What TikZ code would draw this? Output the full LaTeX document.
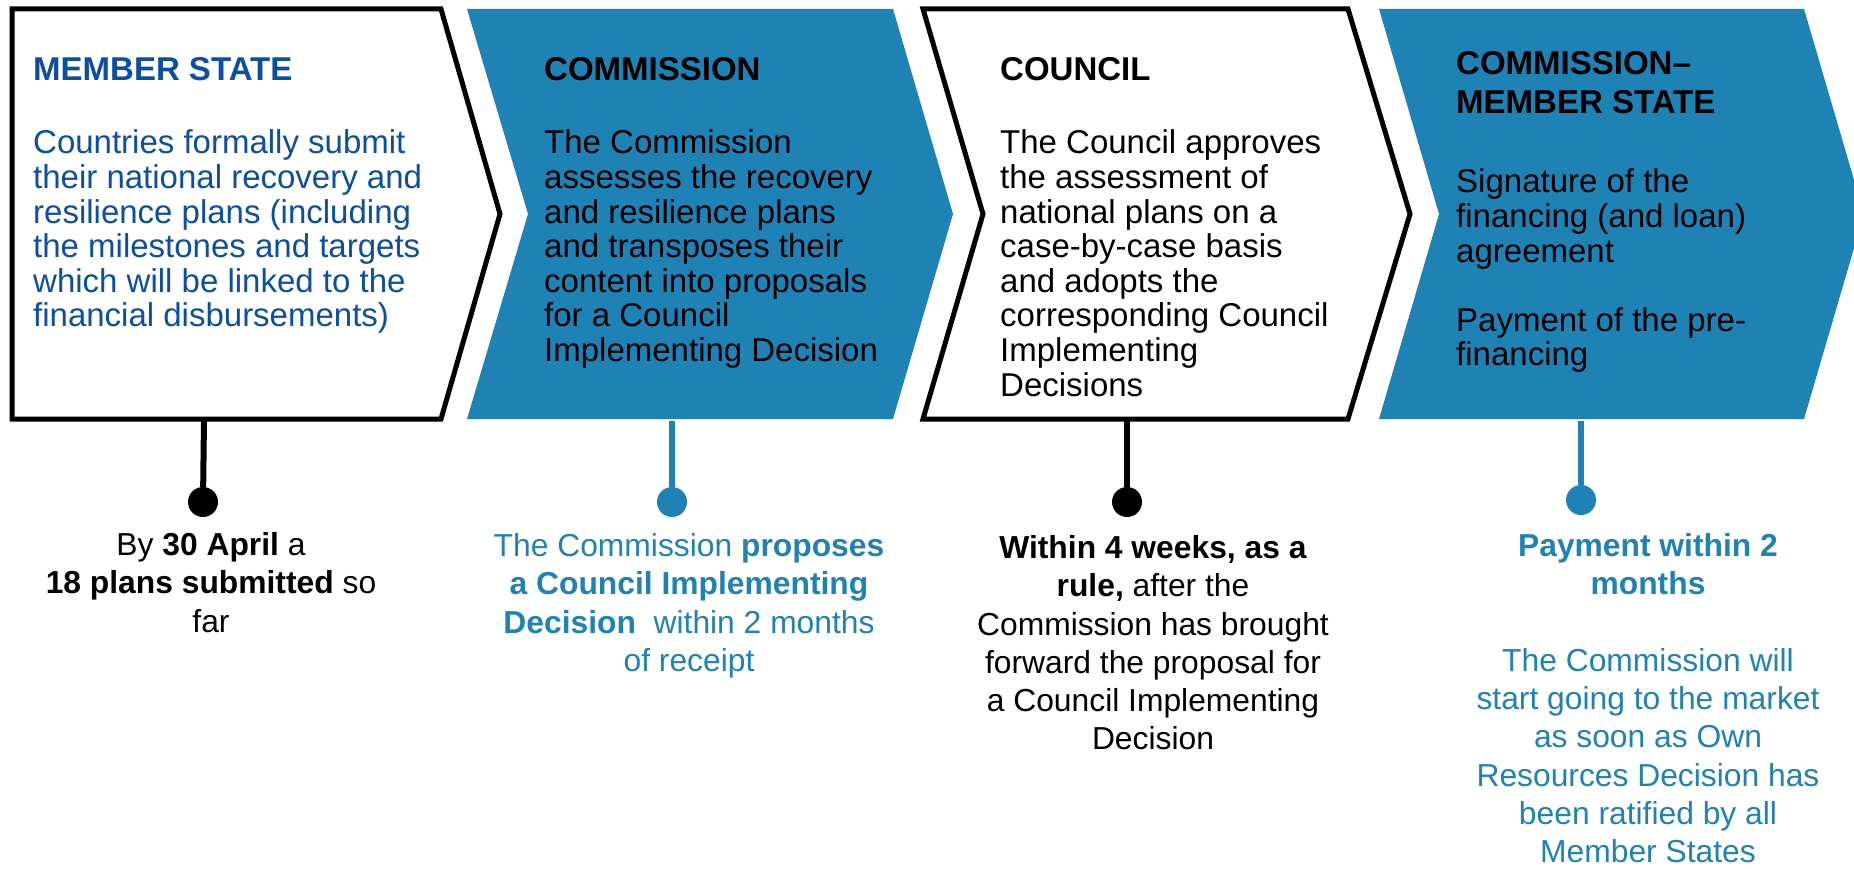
\documentclass[tikz,border=0pt]{standalone}
\usepackage{fontspec}
\setmainfont{Liberation Sans}
\usetikzlibrary{positioning}

\definecolor{ecblue}{RGB}{31,130,180}
\definecolor{msblue}{RGB}{11,78,162}

% text blocks are placed by the baseline of their first line
\tikzset{
  outlined/.style={draw=black, line width=5pt, fill=white, miter limit=10},
  headtext/.style={anchor=north west, inner sep=0pt, align=left, yshift=27.3pt,
    execute at begin node=\strut, font=\fontsize{33pt}{39pt}\selectfont\bfseries},
  bodytext/.style={anchor=north west, inner sep=0pt, align=left, yshift=24.22pt,
    execute at begin node=\strut, font=\fontsize{33pt}{34.6pt}\selectfont},
  notetext/.style={anchor=north, inner sep=0pt, align=center, yshift=26.81pt,
    execute at begin node=\strut, font=\fontsize{31.8pt}{38.3pt}\selectfont},
  bead/.style={circle, inner sep=0pt, minimum size=30pt},
  stalk/.style={line width=6pt}
}

\begin{document}
\begin{tikzpicture}[x=1pt, y=-1pt]
  \useasboundingbox (0,0) rectangle (1854,869);

  % Chevrons
  \draw[outlined] (12,9) -- (441,9) -- (500,214) -- (441,419) -- (12,419) -- cycle;
  \fill[ecblue] (467,9) -- (893,9) -- (953,214) -- (893,419) -- (467,419) -- (528,214) -- cycle;
  \draw[outlined] (923,9) -- (1348,9) -- (1410,214) -- (1348,419) -- (923,419) -- (983,214) -- cycle;
  \fill[ecblue] (1379,9) -- (1804,9) -- (1864,214) -- (1804,419) -- (1379,419) -- (1439,214) -- cycle;

  % Member state
  \node[headtext, text=msblue] (ms head) at (33,80) {MEMBER STATE};
  \node[bodytext, text=msblue] (ms body) at (33,154) {Countries formally submit\\their national recovery and\\resilience plans (including\\the milestones and targets\\which will be linked to the\\financial disbursements)};

  % Commission
  \node[headtext] (com head) at (544,80) {COMMISSION};
  \node[bodytext] (com body) at (544,154) {The Commission\\assesses the recovery\\and resilience plans\\and transposes their\\content into proposals\\for a Council\\Implementing Decision};

  % Council
  \node[headtext] (cou head) at (1000,80) {COUNCIL};
  \node[bodytext] (cou body) at (1000,154) {The Council approves\\the assessment of\\national plans on a\\case-by-case basis\\and adopts the\\corresponding Council\\Implementing\\Decisions};

  % Commission - member state
  \node[headtext] (cms head) at (1456,79) {COMMISSION--\\MEMBER STATE};
  \node[bodytext] (cms body) at (1456,193) {Signature of the\\financing (and loan)\\agreement\\[34.6pt]Payment of the pre-\\financing};

  % Timeline beads
  \coordinate (ms foot) at (204,419);
  \coordinate (com foot) at (672,421);
  \coordinate (cou foot) at (1127,419);
  \coordinate (cms foot) at (1581,421);
  \node[bead, fill=black] (ms dot) at (203,502) {};
  \node[bead, fill=ecblue] (com dot) at (672,502) {};
  \node[bead, fill=black] (cou dot) at (1127,502) {};
  \node[bead, fill=ecblue] (cms dot) at (1581,500) {};
  \draw[stalk] (ms foot) -- (ms dot);
  \draw[stalk, ecblue] (com foot) -- (com dot);
  \draw[stalk] (cou foot) -- (cou dot);
  \draw[stalk, ecblue] (cms foot) -- (cms dot);

  % Notes under the beads
  \node[notetext] (ms note) at (211,559) {By \textbf{30 April} a\\\textbf{18 plans submitted} so\\far};
  \node[notetext, text=ecblue] (com note) at (689,560) {The Commission \textbf{proposes}\\\textbf{a Council Implementing}\\\textbf{Decision}\ \ within 2 months\\of receipt};
  \node[notetext] (cou note) at (1153,562) {\textbf{Within 4 weeks, as a}\\\textbf{rule,} after the\\Commission has brought\\forward the proposal for\\a Council Implementing\\Decision};
  \node[notetext, text=ecblue] (cms note) at (1648,560) {\textbf{Payment within 2}\\\textbf{months}\\[38.3pt]The Commission will\\start going to the market\\as soon as Own\\Resources Decision has\\been ratified by all\\Member States};
\end{tikzpicture}
\end{document}
